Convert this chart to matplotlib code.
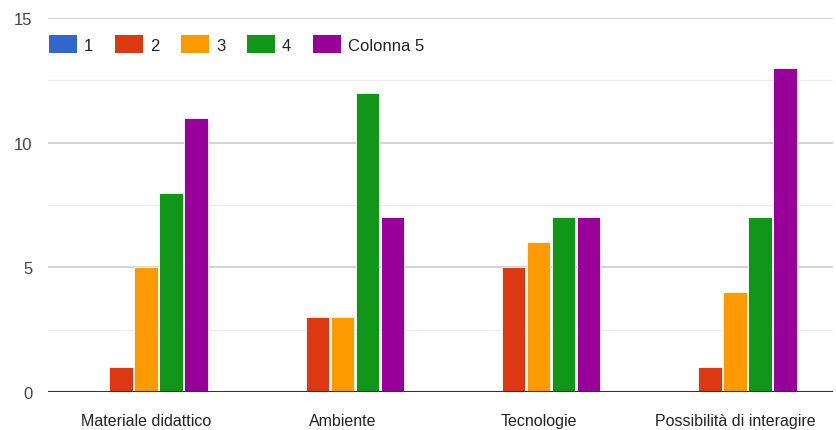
import matplotlib
matplotlib.use("Agg")
import matplotlib.pyplot as plt
import numpy as np
from matplotlib.patches import Patch

categories = ["Materiale didattico", "Ambiente", "Tecnologie", "Possibilità di interagire"]
series_names = ["1", "2", "3", "4", "Colonna 5"]
s1 = [0, 0, 0, 0]
s2 = [1, 3, 5, 1]
s3 = [5, 3, 6, 4]
s4 = [8, 12, 7, 7]
s5 = [11, 7, 7, 13]
series = [s1, s2, s3, s4, s5]
colors = ["#3366cc", "#dc3912", "#ff9900", "#109618", "#990099"]
yticks = [0, 5, 10, 15]

plt.rcParams['font.family'] = ['Liberation Sans', 'DejaVu Sans']

W, H = 836, 431
fig = plt.figure(figsize=(W/100, H/100), dpi=100)
ax = fig.add_axes([48/W, 38/H, 785/W, 374/H])

x = np.arange(len(categories))
slot = 25/196
bw = 23.5/196
for i, (vals, c) in enumerate(zip(series, colors)):
    offs = (i - 2) * slot
    ax.bar(x + offs, vals, width=bw, color=c, edgecolor='white', linewidth=0.6, zorder=3)

ax.set_xlim(-0.5, len(categories) - 0.5)
ax.set_ylim(0, 15)
ax.set_yticks(yticks)
ax.set_yticks([2.5, 7.5, 12.5], minor=True)
ax.grid(axis='y', which='major', color='#cccccc', linewidth=1.2, zorder=0)
ax.grid(axis='y', which='minor', color='#ebebeb', linewidth=1.0, zorder=0)
ax.axhline(0, color='#333333', linewidth=1.5, zorder=4)
for s in ax.spines.values():
    s.set_visible(False)
ax.tick_params(axis='both', which='both', length=0)
ax.set_xticks(x)
ax.set_xticklabels(categories, fontsize=11.5, color='#222222')
ax.tick_params(axis='x', pad=15)
ax.tick_params(axis='y', pad=11, labelsize=12, labelcolor='#444444')

handles = [Patch(facecolor=c, edgecolor='none') for c in colors]
fig.legend(handles, series_names, loc='center left',
           bbox_to_anchor=(49/W, 1 - 45/H), ncol=5, frameon=False,
           fontsize=12, handlelength=1.7, handleheight=1.3,
           handletextpad=0.4, columnspacing=1.3, borderpad=0, borderaxespad=0,
           labelcolor='#222222')

fig.savefig("out.png", dpi=100)
